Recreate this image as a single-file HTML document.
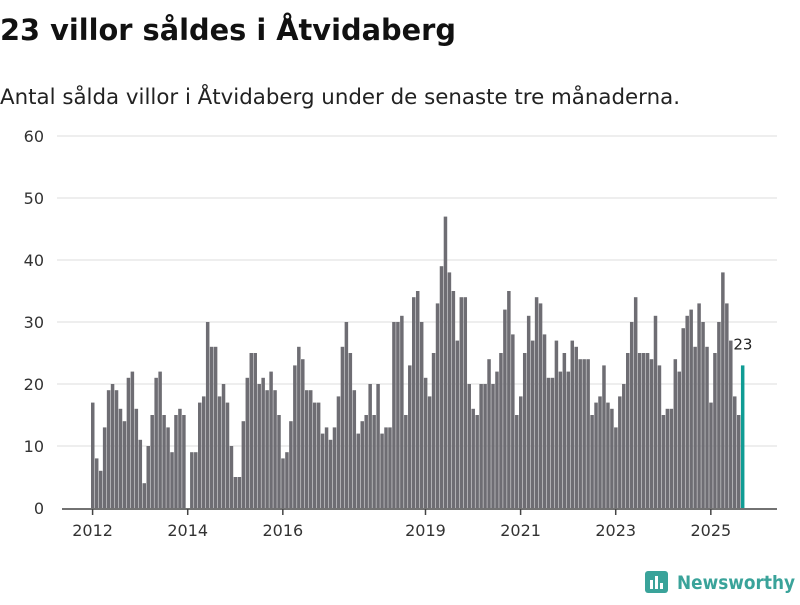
<!DOCTYPE html>
<html><head><meta charset="utf-8"><style>
body{margin:0;background:#fff;font-family:"Liberation Sans",sans-serif;}
svg text{font-family:"DejaVu Sans","Liberation Sans",sans-serif;}
</style></head><body>
<svg width="800" height="600" xmlns="http://www.w3.org/2000/svg">
<text x="0" y="40" font-size="29" font-weight="bold" fill="#111" textLength="456" lengthAdjust="spacingAndGlyphs">23 villor såldes i Åtvidaberg</text>
<text x="0" y="104" font-size="21" fill="#222" textLength="680" lengthAdjust="spacingAndGlyphs">Antal sålda villor i Åtvidaberg under de senaste tre månaderna.</text>
<g id="grid"></g><g id="bars"></g><g id="xaxis"></g>
<g>
<rect x="645" y="571" width="23" height="22" rx="3" fill="#3aa39a"/>
<rect x="650" y="580" width="3" height="9" fill="#fff"/><rect x="655" y="576" width="3" height="13" fill="#fff"/><rect x="660" y="583" width="3" height="6" fill="#fff"/>
<text x="677" y="589" font-size="19" font-weight="bold" fill="#3aa39a" textLength="118" lengthAdjust="spacingAndGlyphs">Newsworthy</text>
</g>
</svg>
<script>
const values=[17,8,6,13,19,20,19,16,14,21,22,16,11,4,10,15,21,22,15,13,9,15,16,15,0,
9,9,17,18,30,26,26,18,20,17,10,5,5,14,21,25,25,20,21,19,22,19,15,8,9,14,23,26,24,19,
19,17,17,12,13,11,13,18,26,30,25,19,12,14,15,20,15,20,12,13,13,30,30,31,15,23,34,35,30,21,
18,25,33,39,47,38,35,27,34,34,20,16,15,20,20,24,20,22,25,32,35,28,15,18,25,31,27,34,33,28,
21,21,27,22,25,22,27,26,24,24,24,15,17,18,23,17,16,13,18,20,25,30,34,25,25,25,24,31,23,15,
16,16,24,22,29,31,32,26,33,30,26,17,25,30,38,33,27,18,15,23];
const yTicks=[0,10,20,30,40,50,60];
const xTickLabels=["2012","2014","2016","2019","2021","2023","2025"];
const xTickMonths=[0,24,48,84,108,132,156];
const NS="http://www.w3.org/2000/svg";
const y=v=>508-v*6.2;
const x=i=>91+i*3.963;
function mk(t,a,p){const e=document.createElementNS(NS,t);for(const k in a)e.setAttribute(k,a[k]);p.appendChild(e);return e;}
const grid=document.getElementById('grid'),bars=document.getElementById('bars'),xa=document.getElementById('xaxis');
yTicks.forEach(t=>{
 if(t>0){const l=mk('line',{x1:57,x2:777,y1:y(t),y2:y(t),stroke:'#ddd','stroke-width':1},grid);
 
 }
 const tx=mk('text',{x:44,y:y(t)+6,'font-size':16,'text-anchor':'end',fill:'#333'},grid);tx.textContent=t;
 
 
});
values.forEach((v,i)=>{
 const last=i===values.length-1;
 const r=mk('rect',{x:x(i),y:y(v),width:3.5,height:v*6.2,fill:last?'#109c94':'#6e6d73'},bars);
 
 
 if(last){const t=mk('text',{x:x(i)+2,y:y(v)-16,'font-size':15,'text-anchor':'middle',fill:'#222'},bars);t.textContent=v;
 
 }
});
const ax=mk('line',{x1:62,x2:777,y1:509,y2:509,stroke:'#444','stroke-width':1.5},xa);


xTickMonths.forEach((m,k)=>{
 const px=x(m)+1.6;
 mk('line',{x1:px,x2:px,y1:509,y2:515,stroke:'#444','stroke-width':1.5},xa);
 const t=mk('text',{x:px,y:536,'font-size':16,'text-anchor':'middle',fill:'#333'},xa);t.textContent=xTickLabels[k];
 
 
});
</script>
</body></html>
